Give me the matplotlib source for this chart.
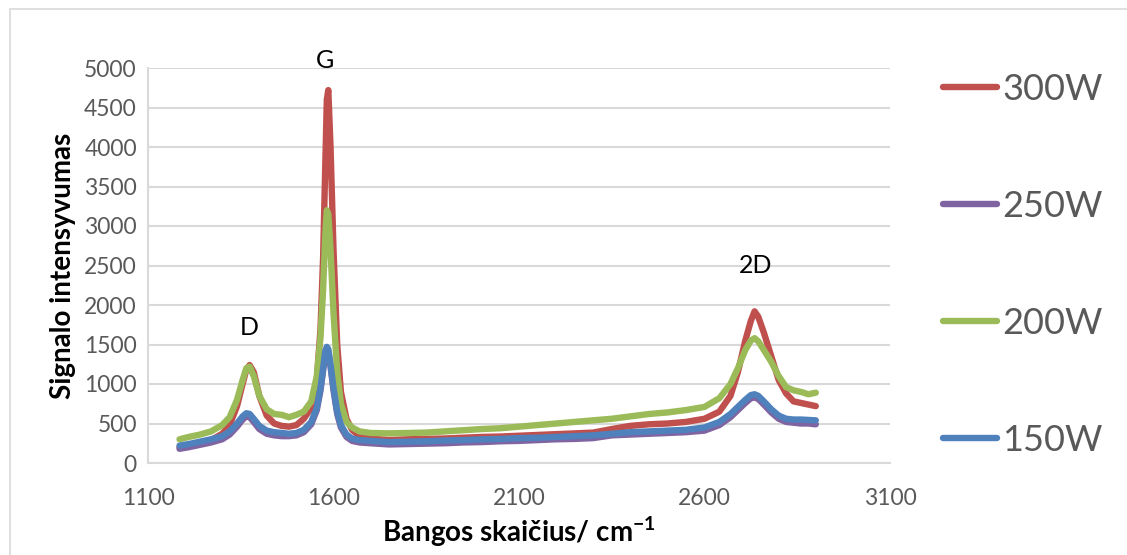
import matplotlib
matplotlib.use("Agg")
import matplotlib.pyplot as plt
from matplotlib.patches import Rectangle

plt.rcParams['font.family'] = ['Lato', 'DejaVu Sans']

# Raman shift, cm-1
shift = [1185, 1210, 1240, 1270, 1300, 1320, 1340, 1355, 1365, 1374, 1385,
         1400, 1420, 1440, 1460, 1480, 1500, 1520, 1540, 1555, 1565, 1572,
         1578, 1582, 1586, 1592, 1600, 1610, 1620, 1635, 1650, 1670, 1700,
         1750, 1800, 1850, 1900, 1950, 2000, 2050, 2100, 2150, 2200, 2250,
         2300, 2350, 2400, 2450, 2500, 2550, 2600, 2640, 2670, 2690, 2710,
         2725, 2735, 2745, 2760, 2780, 2800, 2820, 2840, 2860, 2880, 2900]

i_300 = [200, 230, 260, 290, 370, 480, 720, 1000, 1180, 1240, 1150,
         850, 600, 500, 470, 460, 480, 560, 700, 1050, 1700, 2600,
         3800, 4600, 4720, 4000, 2700, 1500, 900, 560, 420, 340, 310,
         290, 300, 305, 310, 320, 330, 335, 345, 355, 365, 375,
         385, 430, 470, 490, 500, 520, 560, 650, 850, 1150, 1550,
         1800, 1920, 1850, 1650, 1350, 1050, 880, 780, 760, 740, 720]

i_250 = [180, 200, 230, 260, 300, 360, 460, 550, 590, 580, 520,
         430, 370, 350, 340, 340, 350, 390, 490, 670, 920, 1170,
         1390, 1440, 1410, 1220, 920, 620, 450, 330, 280, 260, 250,
         235, 240, 245, 250, 260, 265, 275, 280, 290, 300, 305,
         315, 350, 360, 370, 380, 390, 410, 480, 580, 670, 760,
         820, 830, 810, 740, 640, 560, 520, 510, 500, 500, 490]

i_200 = [300, 330, 360, 400, 480, 580, 800, 1050, 1200, 1220, 1100,
         850, 680, 620, 610, 580, 610, 650, 780, 1100, 1600, 2200,
         2900, 3200, 3150, 2700, 1900, 1150, 750, 520, 450, 400, 380,
         375, 380, 385, 400, 415, 430, 440, 460, 480, 500, 520,
         540, 560, 590, 620, 640, 670, 710, 820, 1000, 1200, 1430,
         1550, 1580, 1540, 1430, 1280, 1100, 960, 920, 900, 870, 890]

i_150 = [220, 240, 270, 300, 340, 400, 500, 590, 630, 620, 560,
         470, 410, 390, 380, 370, 380, 420, 520, 700, 950, 1200,
         1420, 1470, 1440, 1250, 950, 650, 480, 360, 310, 290, 280,
         265, 270, 275, 285, 290, 300, 305, 315, 320, 330, 340,
         350, 370, 390, 400, 410, 420, 450, 520, 620, 710, 800,
         860, 870, 850, 780, 680, 600, 560, 550, 550, 545, 540]

series = [('300W', i_300, '#C0504D'),
          ('250W', i_250, '#8064A2'),
          ('200W', i_200, '#9BBB59'),
          ('150W', i_150, '#4F81BD')]

peaks = [('D', 1374, 1720), ('G', 1577, 5100), ('2D', 2737, 2505)]

fig = plt.figure(figsize=(11.27, 5.55), dpi=100)
fig.patches.append(Rectangle((10 / 1127, -0.1), 1.2, 1 - 9 / 555 + 0.1,
                             transform=fig.transFigure, fill=False,
                             edgecolor='#d9d9d9', linewidth=1.2))
ax = fig.add_axes([148 / 1127, 92 / 555, 742 / 1127, 395 / 555])

for name, y, c in series:
    ax.plot(shift, y, color=c, lw=4.6, label=name,
            solid_capstyle='round', solid_joinstyle='round')

for txt, x, y in peaks:
    ax.text(x, y, txt, ha='center', va='center', fontsize=18,
            color='black', clip_on=False)

ax.set_xlim(1100, 3100)
ax.set_ylim(0, 5000)
ax.set_xticks(range(1100, 3101, 500))
ax.set_yticks(range(0, 5001, 500))
ax.grid(axis='y', color='#d9d9d9', lw=1.5)
ax.set_axisbelow(True)
for s in ['top', 'right']:
    ax.spines[s].set_visible(False)
for s in ['left', 'bottom']:
    ax.spines[s].set_color('#d9d9d9')
    ax.spines[s].set_linewidth(1.5)
ax.tick_params(length=0, labelsize=16.5, labelcolor='#595959', pad=8)
ax.tick_params(axis='x', pad=18)

ax.set_xlabel('Bangos skaičius/ cm$^{\\mathregular{-1}}$', fontsize=20,
              fontweight='bold', labelpad=4)
ax.set_ylabel('Signalo intensyvumas', fontsize=20, fontweight='bold',
              labelpad=6)

leg = fig.legend(loc='upper left', bbox_to_anchor=(910 / 1127, 1 - 40 / 555),
                 frameon=False, fontsize=26, handlelength=1.5,
                 handletextpad=0.15, labelspacing=2.33, labelcolor='#595959')
for h in leg.get_lines():
    h.set_linewidth(4.6)

fig.savefig('out.png', dpi=100)
